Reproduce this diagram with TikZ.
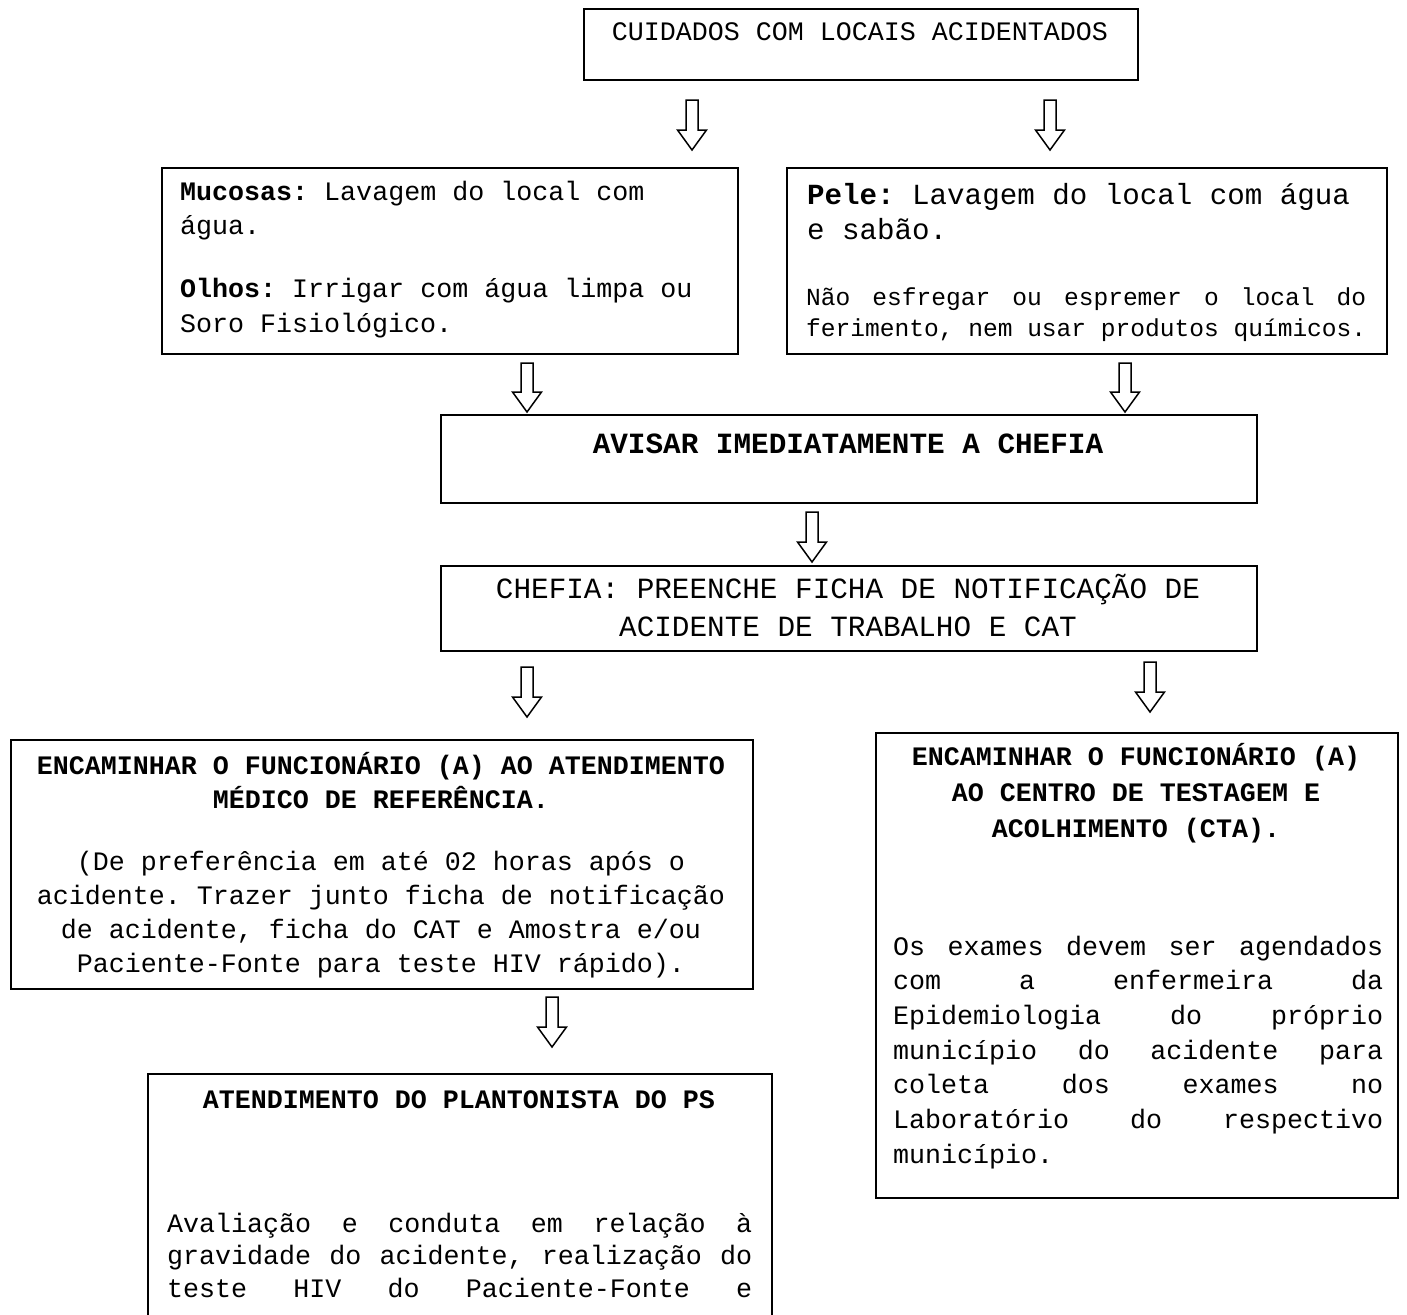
\documentclass[tikz,border=0pt]{standalone}
\usepackage{fontspec}
\setmainfont{Liberation Mono}
\usetikzlibrary{calc}
\newcommand{\fsz}[2]{\fontsize{#1}{#2}\selectfont}
\newcommand{\fixsp}{\spaceskip=\fontcharwd\font`\a\relax\xspaceskip=\spaceskip}
\newcommand{\jst}[2]{\leavevmode\hbox to #1{\spaceskip=\fontcharwd\font`\a plus 1fil\relax #2}}
\frenchspacing
\tikzset{
  box/.style={draw, line width=2pt, inner sep=0pt, anchor=north west},
  txt/.style={inner sep=0pt, align=left},
  ctxt/.style={inner sep=0pt, align=center},
  harrow/.style={line width=1.5pt, line join=miter, to path={
    ($(\tikztostart)+(-6,0)$) -- ($(\tikztotarget)+(-6,-20)$) -- ($(\tikztotarget)+(-14.5,-20)$)
    -- (\tikztotarget) -- ($(\tikztotarget)+(14.5,-20)$) -- ($(\tikztotarget)+(6,-20)$)
    -- ($(\tikztostart)+(6,0)$) -- cycle}}
}
\begin{document}
\begin{tikzpicture}[x=1pt,y=-1pt]
\useasboundingbox (0,0) rectangle (1407,1314);
\clip (0,0) rectangle (1407,1314);

% boxes
\node[box, minimum width=554pt, minimum height=71pt] (top) at (583,8) {};
\node[box, minimum width=576pt, minimum height=186pt] (muc) at (161,167) {};
\node[box, minimum width=600pt, minimum height=186pt] (pele) at (786,167) {};
\node[box, minimum width=816pt, minimum height=88pt] (avisar) at (440,414) {};
\node[box, minimum width=816pt, minimum height=85pt] (chefia) at (440,565) {};
\node[box, minimum width=742pt, minimum height=249pt] (enc) at (10,739) {};
\node[box, minimum width=522pt, minimum height=465pt] (cta) at (875,732) {};
\node[box, minimum width=624pt, minimum height=300pt] (ps) at (147,1073) {};

% texts
\node[ctxt, text width=554pt, anchor=base, font={\fsz{26.67}{34}}] (ttop) at (860,41)
  {\fixsp CUIDADOS COM LOCAIS ACIDENTADOS};
\node[txt, text width=545pt, anchor=base west, font={\fsz{26.67}{34.5}}] (tmuc) at (180,200)
  {\fixsp\textbf{Mucosas:} Lavagem do local com\\água.\\[28.5pt]\textbf{Olhos:} Irrigar com água limpa ou\\Soro Fisiológico.};
\node[txt, text width=575pt, anchor=base west, font={\fsz{29.17}{35}}] (tpele) at (807,204)
  {\fixsp\textbf{Pele:} Lavagem do local com água\\e sabão.};
\node[txt, text width=565pt, anchor=base west, font={\fsz{24.56}{31}}] (tpele2) at (806,305)
  {\fixsp\jst{560pt}{Não esfregar ou espremer o local do}\\ferimento, nem usar produtos químicos.};
\node[ctxt, text width=816pt, anchor=base, font={\fsz{29.33}{35}\bfseries}] (tavisar) at (848,453)
  {\fixsp AVISAR IMEDIATAMENTE A CHEFIA};
\node[ctxt, text width=816pt, anchor=base, font={\fsz{29.33}{38}}] (tchefia) at (848,598)
  {\fixsp CHEFIA: PREENCHE FICHA DE NOTIFICAÇÃO DE\\ACIDENTE DE TRABALHO E CAT};
\node[ctxt, text width=742pt, anchor=base, font={\fsz{26.67}{34.5}\bfseries}] (tenc1) at (381,774)
  {\fixsp ENCAMINHAR O FUNCIONÁRIO (A) AO ATENDIMENTO\\MÉDICO DE REFERÊNCIA.};
\node[ctxt, text width=742pt, anchor=base, font={\fsz{26.67}{34.3}}] (tenc2) at (381,870)
  {\fixsp (De preferência em até 02 horas após o\\acidente. Trazer junto ficha de notificação\\de acidente, ficha do CAT e Amostra e/ou\\Paciente-Fonte para teste HIV rápido).};
\node[ctxt, text width=522pt, anchor=base, font={\fsz{26.67}{36}\bfseries}] (tcta1) at (1136,765)
  {\fixsp ENCAMINHAR O FUNCIONÁRIO (A)\\AO CENTRO DE TESTAGEM E\\ACOLHIMENTO (CTA).};
\node[txt, text width=495pt, anchor=base west, font={\fsz{26.67}{34.7}}] (tcta2) at (893,955)
  {\fixsp\jst{490pt}{Os exames devem ser agendados}\\
   \jst{490pt}{com a enfermeira da}\\
   \jst{490pt}{Epidemiologia do próprio}\\
   \jst{490pt}{município do acidente para}\\
   \jst{490pt}{coleta dos exames no}\\
   \jst{490pt}{Laboratório do respectivo}\\
   município.};
\node[ctxt, text width=624pt, anchor=base, font={\fsz{26.67}{34}\bfseries}] (tps1) at (459,1108)
  {\fixsp ATENDIMENTO DO PLANTONISTA DO PS};
\node[txt, text width=590pt, anchor=base west, font={\fsz{26.67}{32.7}}] (tps2) at (167,1232)
  {\fixsp\jst{585pt}{Avaliação e conduta em relação à}\\
   \jst{585pt}{gravidade do acidente, realização do}\\
   \jst{585pt}{teste HIV do Paciente-Fonte e}};

% arrows
\coordinate (a1s) at (692,100);  \coordinate (a1e) at (692,150);
\coordinate (a2s) at (1050,100); \coordinate (a2e) at (1050,150);
\coordinate (a3s) at (527,363);  \coordinate (a3e) at (527,412);
\coordinate (a4s) at (1125,363); \coordinate (a4e) at (1125,412);
\coordinate (a5s) at (812,512);  \coordinate (a5e) at (812,562);
\coordinate (a6s) at (527,667);  \coordinate (a6e) at (527,717);
\coordinate (a7s) at (1150,662); \coordinate (a7e) at (1150,712);
\coordinate (a8s) at (552,997);  \coordinate (a8e) at (552,1047);
\draw[harrow] (a1s) to (a1e);
\draw[harrow] (a2s) to (a2e);
\draw[harrow] (a3s) to (a3e);
\draw[harrow] (a4s) to (a4e);
\draw[harrow] (a5s) to (a5e);
\draw[harrow] (a6s) to (a6e);
\draw[harrow] (a7s) to (a7e);
\draw[harrow] (a8s) to (a8e);
\end{tikzpicture}
\end{document}
